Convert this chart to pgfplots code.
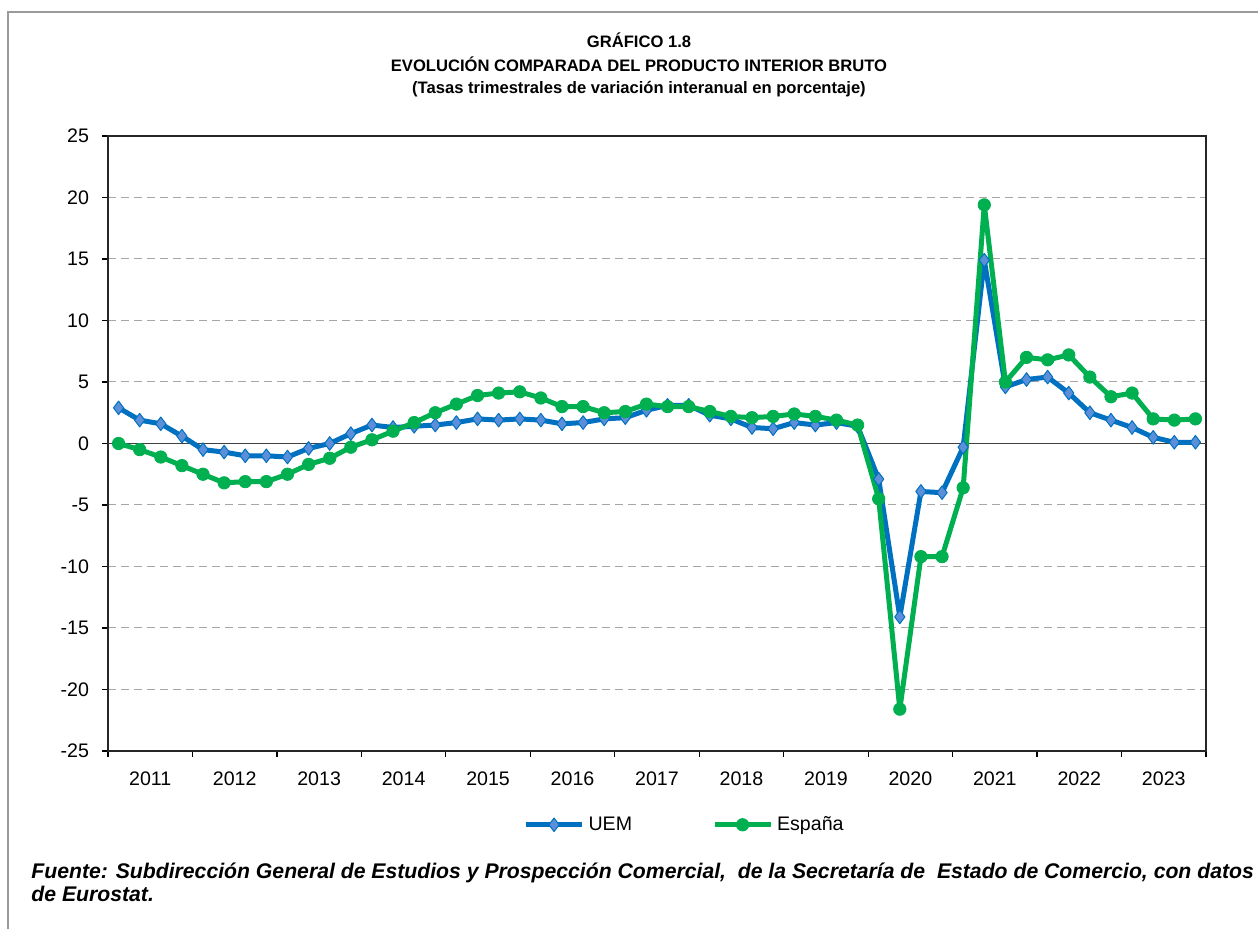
\documentclass[border=0pt]{standalone}
\usepackage{fontspec}
\setmainfont{Liberation Sans}
\usepackage{pgfplots}
\pgfplotsset{compat=1.18}

\definecolor{uemblue}{HTML}{0070C0}
\definecolor{uemfill}{HTML}{5B8FD9}
\definecolor{espgreen}{HTML}{00B050}
\definecolor{gridgray}{HTML}{A6A6A6}
\definecolor{framegray}{HTML}{9A9A9A}

\begin{document}
\begin{tikzpicture}
\useasboundingbox (0pt,0pt) rectangle (629pt,464.5pt);
% outer frame (open on right and bottom, as in the page crop)
\draw[framegray, line width=0.6pt] (4pt,0pt) -- (4pt,458.5pt) -- (629pt,458.5pt);

% titles
\node[font=\fontsize{8.3}{10}\selectfont\bfseries, anchor=center] at (319.5pt,444.5pt) {GRÁFICO 1.8};
\node[font=\fontsize{8.3}{10}\selectfont\bfseries, anchor=center] at (319.5pt,432.5pt) {EVOLUCIÓN COMPARADA DEL PRODUCTO INTERIOR BRUTO};
\node[font=\fontsize{8.3}{10}\selectfont\bfseries, anchor=center] at (319.5pt,420pt) {(Tasas trimestrales de variación interanual en porcentaje)};

\begin{axis}[
    at={(54pt,89pt)}, anchor=south west,
    width=549pt, height=307.5pt, scale only axis,
    xmin=-0.5, xmax=51.5,
    ymin=-25, ymax=25,
    xtick={-0.5,3.5,...,51.5},
    x tick label as interval,
    xticklabels={2011,2012,2013,2014,2015,2016,2017,2018,2019,2020,2021,2022,2023},
    ytick={-25,-20,...,25},
    yticklabels={-25,-20,-15,-10,-5,0,5,10,15,20,25},
    tick align=outside,
    major tick length=3pt,
    xtick pos=bottom, ytick pos=left,
    tick style={black, line width=0.6pt},
    tick label style={font=\fontsize{9.8}{11}\selectfont},
    xticklabel style={yshift=-4pt},
    yticklabel style={xshift=-3pt},
    axis line style={black!85, line width=0.7pt},
    ymajorgrids,
    grid style={gridgray, line width=0.5pt, dash pattern=on 4pt off 2.5pt},
    legend columns=2,
    legend style={at={(0.526,-0.12)}, anchor=center, draw=none, fill=none,
        font=\fontsize{9.8}{11}\selectfont,
        /tikz/column 2/.style={column sep=38pt}},
    legend image code/.code={
        \draw[mark repeat=2, mark phase=2] plot coordinates {(0pt,0pt) (14pt,0pt) (28pt,0pt)};
    },
    clip=false,
]

% zero line
\draw[black!75, line width=0.7pt] (axis cs:-0.5,0) -- (axis cs:51.5,0);

% UEM (quarters 2011Q1 ... 2023Q4)
\addplot[uemblue, line width=2.5pt, line join=round, mark=diamond*, mark size=3.4pt,
    mark options={fill=uemfill, draw=uemblue, line width=0.5pt}] coordinates {
    (0,2.9) (1,1.9) (2,1.6) (3,0.6)
    (4,-0.5) (5,-0.7) (6,-1.0) (7,-1.0)
    (8,-1.1) (9,-0.4) (10,0.0) (11,0.8)
    (12,1.5) (13,1.3) (14,1.4) (15,1.5)
    (16,1.7) (17,2.0) (18,1.9) (19,2.0)
    (20,1.9) (21,1.6) (22,1.7) (23,2.0)
    (24,2.1) (25,2.7) (26,3.1) (27,3.1)
    (28,2.3) (29,2.0) (30,1.3) (31,1.2)
    (32,1.7) (33,1.5) (34,1.7) (35,1.4)
    (36,-2.9) (37,-14.1) (38,-3.9) (39,-4.0)
    (40,-0.3) (41,14.9) (42,4.6) (43,5.2)
    (44,5.4) (45,4.1) (46,2.5) (47,1.9)
    (48,1.3) (49,0.5) (50,0.1) (51,0.1)
};
\addlegendentry{UEM}

% España
\addplot[espgreen, line width=2.5pt, line join=round, mark=*, mark size=3.1pt,
    mark options={fill=espgreen, draw=espgreen, line width=0.4pt}] coordinates {
    (0,0.0) (1,-0.5) (2,-1.1) (3,-1.8)
    (4,-2.5) (5,-3.2) (6,-3.1) (7,-3.1)
    (8,-2.5) (9,-1.7) (10,-1.2) (11,-0.3)
    (12,0.3) (13,1.0) (14,1.7) (15,2.5)
    (16,3.2) (17,3.9) (18,4.1) (19,4.2)
    (20,3.7) (21,3.0) (22,3.0) (23,2.5)
    (24,2.6) (25,3.2) (26,3.0) (27,3.0)
    (28,2.6) (29,2.2) (30,2.1) (31,2.2)
    (32,2.4) (33,2.2) (34,1.9) (35,1.5)
    (36,-4.5) (37,-21.6) (38,-9.2) (39,-9.2)
    (40,-3.6) (41,19.4) (42,5.0) (43,7.0)
    (44,6.8) (45,7.2) (46,5.4) (47,3.8)
    (48,4.1) (49,2.0) (50,1.9) (51,2.0)
};
\addlegendentry{España}

\end{axis}

% source note
\node[anchor=west, font=\fontsize{10.6}{12}\selectfont\bfseries\itshape, inner sep=0pt] at (15.5pt,28pt)
    {Fuente: Subdirección General de Estudios y Prospección Comercial,\ \ de la Secretaría de\ \ Estado de Comercio, con datos};
\node[anchor=west, font=\fontsize{10.6}{12}\selectfont\bfseries\itshape, inner sep=0pt] at (15.5pt,17.5pt)
    {de Eurostat.};
\end{tikzpicture}
\end{document}
